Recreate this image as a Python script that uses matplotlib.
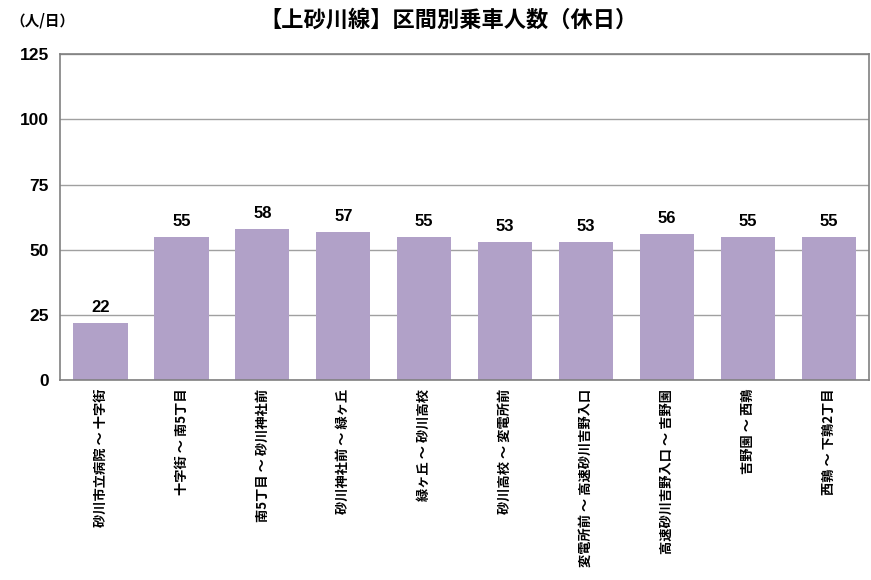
import matplotlib
matplotlib.use("Agg")
import matplotlib.pyplot as plt
import numpy as np

plt.rcParams['font.family'] = ['Noto Sans CJK JP', 'DejaVu Sans']

# Data
sections = ["砂川市立病院 ～ 十字街", "十字街 ～ 南5丁目", "南5丁目 ～ 砂川神社前",
            "砂川神社前 ～ 緑ヶ丘", "緑ヶ丘 ～ 砂川高校", "砂川高校 ～ 変電所前",
            "変電所前 ～ 高速砂川吉野入口", "高速砂川吉野入口 ～ 吉野園",
            "吉野園 ～ 西鶉", "西鶉 ～ 下鶉2丁目"]
riders = [22, 55, 58, 57, 55, 53, 53, 56, 55, 55]
yticks = [0, 25, 50, 75, 100, 125]

fig = plt.figure(figsize=(8.71, 5.80), dpi=100)
ax = fig.add_axes([0.069, 0.344, 0.929, 0.563])

x = np.arange(len(sections))
ax.set_axisbelow(True)
ax.yaxis.grid(True, color="#a0a0a0", linewidth=1)
bars = ax.bar(x, riders, width=0.67, color="#b1a1c8")

# value labels above bars
for xi, v in zip(x, riders):
    ax.text(xi, v + 3, str(v), ha="center", va="bottom", fontsize=12,
            fontweight="bold", family=["Liberation Sans", "DejaVu Sans"])

ax.set_xlim(-0.5, len(sections) - 0.5)
ax.set_ylim(0, 125)
ax.set_yticks(yticks)
ax.set_yticklabels([str(t) for t in yticks], fontsize=12.5, fontweight="bold",
                   family=["Liberation Sans", "DejaVu Sans"])
ax.set_xticks(x)
ax.set_xticklabels(sections, rotation=90, fontsize=9.5, fontweight="bold",
                   va="top", ha="center")
ax.tick_params(axis="both", length=0, pad=8)
ax.tick_params(axis="x", pad=6)
for s in ax.spines.values():
    s.set_color("#808080")
    s.set_linewidth(1.2)

fig.text(0.012, 0.965, "（人/日）", fontsize=10.5, fontweight="bold", va="center")
fig.text(0.515, 0.965, "【上砂川線】区間別乗車人数（休日）", fontsize=16,
         fontweight="bold", ha="center", va="center")

fig.savefig("out.png", dpi=100)
